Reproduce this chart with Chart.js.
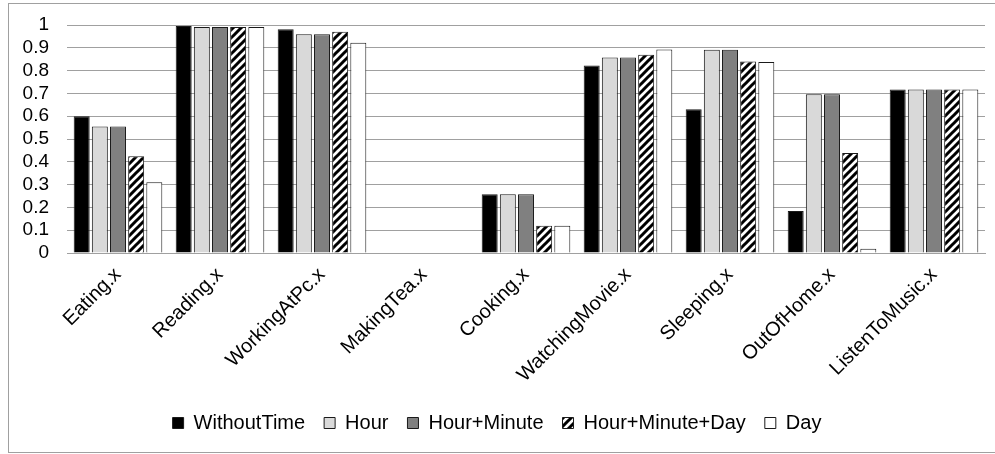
<!DOCTYPE html>
<html>
<head>
<meta charset="utf-8">
<script src="https://cdn.jsdelivr.net/npm/chart.js@4"></script>
<style>
	html, body { margin: 0; padding: 0; background: #fff; overflow: hidden; }
	#box { position: absolute; left: 8px; top: 3px; width: 990px; height: 448px; border: 1px solid #a0a0a0; }
</style>
</head>
<body>
<div id="box"><canvas id="activityChart"></canvas></div>
<script>
// categories and series
const categories = ['Eating.x', 'Reading.x', 'WorkingAtPc.x', 'MakingTea.x', 'Cooking.x', 'WatchingMovie.x', 'Sleeping.x', 'OutOfHome.x', 'ListenToMusic.x'];
const seriesNames = ['WithoutTime', 'Hour', 'Hour+Minute', 'Hour+Minute+Day', 'Day'];
const withoutTime = [0.60, 0.996, 0.981, 0, 0.258, 0.822, 0.63, 0.184, 0.717];
const hour = [0.555, 0.991, 0.959, 0, 0.258, 0.857, 0.891, 0.696, 0.717];
const hourMinute = [0.555, 0.991, 0.959, 0, 0.258, 0.857, 0.891, 0.696, 0.717];
const hourMinuteDay = [0.424, 0.991, 0.970, 0, 0.119, 0.870, 0.84, 0.439, 0.717];
const day = [0.31, 0.991, 0.922, 0, 0.119, 0.893, 0.838, 0.019, 0.717];
const yTicks = [0, 0.1, 0.2, 0.3, 0.4, 0.5, 0.6, 0.7, 0.8, 0.9, 1];

// diagonal hatch for the Hour+Minute+Day series
function makeHatch() {
	const c = document.createElement('canvas');
	c.width = 8;
	c.height = 8;
	const g = c.getContext('2d');
	g.fillStyle = '#fff';
	g.fillRect(0, 0, 8, 8);
	g.strokeStyle = '#000';
	g.lineWidth = 3;
	g.beginPath();
	g.moveTo(-2, 10); g.lineTo(10, -2);
	g.moveTo(-2, 2); g.lineTo(2, -2);
	g.moveTo(6, 10); g.lineTo(10, 6);
	g.stroke();
	return g.createPattern(c, 'repeat');
}

const ctx = document.getElementById('activityChart').getContext('2d');
const hatch = makeHatch();
const fills = ['#000000', '#d9d9d9', '#808080', hatch, '#ffffff'];
const values = [withoutTime, hour, hourMinute, hourMinuteDay, day];

Chart.defaults.font.family = '"Liberation Sans", Arial, sans-serif';
Chart.defaults.color = '#000';

const myChart = new Chart(ctx, {
	type: 'bar',
	data: {
		labels: categories,
		datasets: seriesNames.map((name, i) => ({
			label: name,
			data: values[i],
			backgroundColor: fills[i],
			borderColor: '#1a1a1a',
			borderWidth: 1,
			categoryPercentage: 0.89,
			barPercentage: 0.88,
		})),
	},
	options: {
		responsive: true,
		maintainAspectRatio: false,
		animation: false,
		layout: { padding: { top: 21, right: 14, left: 0, bottom: 9 } },
		scales: {
			x: {
				grid: { display: false },
				border: { color: '#a0a0a0' },
				ticks: { maxRotation: 45, minRotation: 45, font: { size: 20 }, padding: 2 },
				afterFit(scale) { scale.height = 141; },
			},
			y: {
				min: 0,
				max: 1,
				afterBuildTicks(scale) { scale.ticks = yTicks.map(v => ({ value: v })); },
				afterFit(scale) {
					scale.width = 58;
					scale.paddingTop = 0;
					scale.paddingBottom = 0;
				},
				grid: { color: '#a0a0a0', lineWidth: 1, drawTicks: false },
				border: { display: false },
				ticks: { autoSkip: false, font: { size: 19 }, padding: 18, callback: v => String(Math.round(v * 10) / 10) },
			},
		},
		plugins: {
			legend: {
				position: 'bottom',
				labels: { boxWidth: 11, boxHeight: 11, padding: 19, font: { size: 20 } },
			},
			tooltip: { enabled: false },
		},
	},
});
</script>
</body>
</html>
